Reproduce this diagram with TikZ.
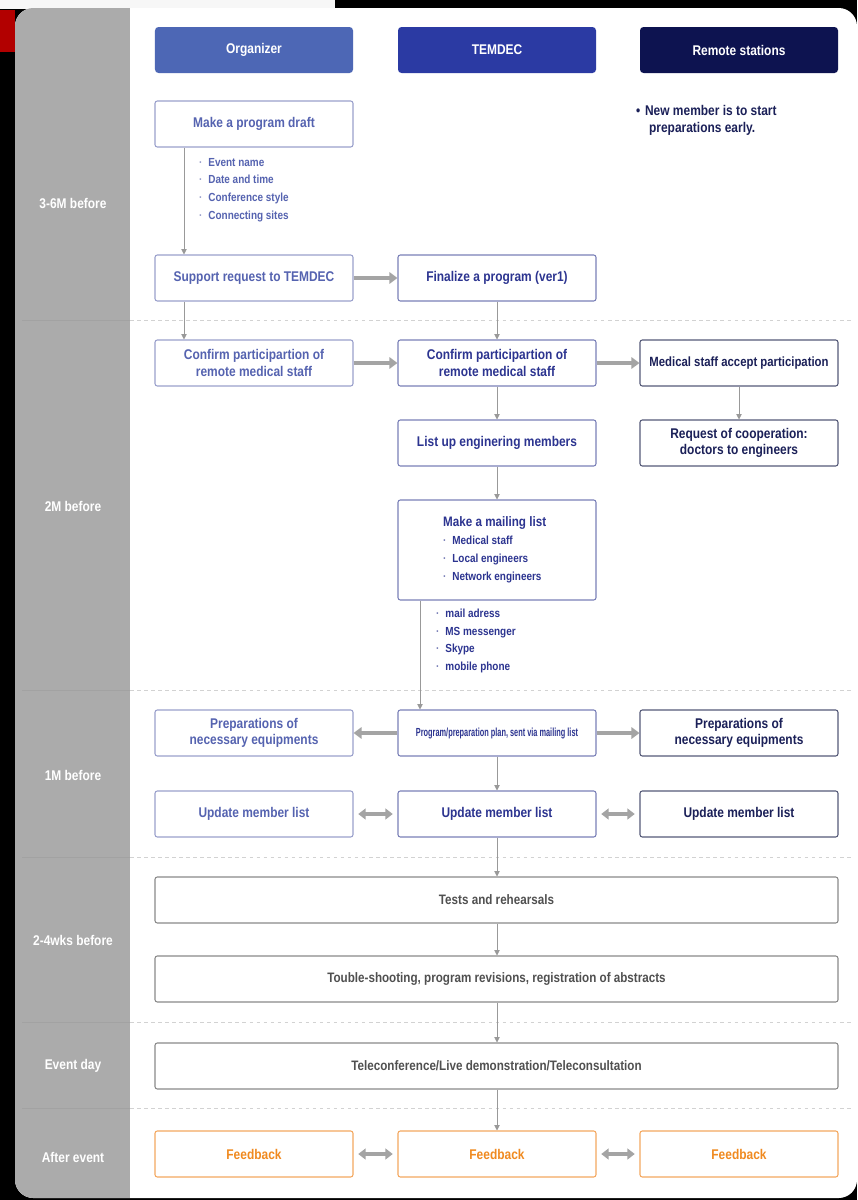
\documentclass[tikz,border=0pt]{standalone}
\usepackage{fontspec}
\setmainfont{Liberation Sans}[FakeStretch=0.85]
\usetikzlibrary{arrows.meta,positioning}
\definecolor{colgray}{HTML}{ABABAB}
\definecolor{orgfill}{HTML}{4D67B5}
\definecolor{temfill}{HTML}{2B3AA3}
\definecolor{remfill}{HTML}{0D1350}
\definecolor{orgline}{HTML}{9AA0CC}
\definecolor{orgtext}{HTML}{5563B0}
\definecolor{temline}{HTML}{7A80B8}
\definecolor{temtext}{HTML}{2C3490}
\definecolor{remline}{HTML}{555A78}
\definecolor{remtext}{HTML}{1B2058}
\definecolor{wideline}{HTML}{8A8A8A}
\definecolor{widetext}{HTML}{505050}
\definecolor{fbline}{HTML}{F4A860}
\definecolor{fbtext}{HTML}{F08A20}
\definecolor{linkgray}{HTML}{999999}
\definecolor{fatgray}{HTML}{A4A4A4}
\tikzset{hdr/.style={rounded corners=3pt,minimum width=5.94cm,minimum height=1.38cm,text=white,
    font=\bfseries\fontsize{12}{14}\selectfont},
  box/.style={draw,fill=white,rounded corners=2pt,minimum width=5.94cm,minimum height=1.38cm,
    align=center,line width=0.9pt,inner sep=2pt,font=\bfseries\fontsize{12}{14}\selectfont},
  lbox/.style={box,draw=orgline,text=orgtext},
  cbox/.style={box,draw=temline,text=temtext},
  rbox/.style={box,draw=remline,text=remtext},
  wbox/.style={box,draw=wideline,text=widetext,minimum width=20.49cm,font=\bfseries\fontsize{11.7}{14}\selectfont},
  fbbox/.style={box,draw=fbline,text=fbtext},
  phase/.style={text=white,font=\bfseries\fontsize{12}{14}\selectfont},
  items/.style={align=left,anchor=north west,inner sep=0pt,font=\bfseries\fontsize{10}{15}\selectfont},
  link/.style={-{Triangle[length=1.6mm,width=1.6mm]},draw=linkgray,line width=0.7pt},
  fat/.style={-{Triangle[length=2.4mm,width=3.4mm]},draw=fatgray,line width=3pt},
  fatboth/.style={{Triangle[length=2.2mm,width=3.2mm]}-{Triangle[length=2.2mm,width=3.2mm]},draw=fatgray,line width=3pt}}
\newcommand{\dotb}[1]{{\color{#1}·}\hspace{5pt}}
\begin{document}
\begin{tikzpicture}[x=0.03cm,y=-0.03cm]
\useasboundingbox (0,0) rectangle (857,1200);
% frame around the sheet
\fill[black] (0,0) rectangle (857,1200);
\fill[gray!6] (0,0) rectangle (335,9);
\fill[red!70!black] (0,10) rectangle (15,52);
\fill[white,rounded corners=0.55cm] (15,8) rectangle (857,1198);
\begin{scope}
  \clip[rounded corners=0.55cm] (15,8) rectangle (857,1198);
  \fill[colgray] (15,8) rectangle (130,1198);
\end{scope}
% phase separators
\foreach \y in {320,690,857,1022,1108}{
  \draw[gray!35,dashed,line width=0.5pt] (130,\y) -- (852,\y);
  \draw[gray!20!colgray,line width=0.6pt] (22,\y) -- (130,\y);}
% phase labels
\node[phase] (p1) at (73,203){3-6M before};
\node[phase] (p2) at (73,506){2M before};
\node[phase] (p3) at (73,775){1M before};
\node[phase] (p4) at (73,940){2-4wks before};
\node[phase] (p5) at (73,1066){Event day};
\node[phase] (p6) at (73,1157){After event};
% column headers
\node[hdr,fill=orgfill] (org) at (254,50){Organizer};
\node[hdr,fill=temfill] (tem) at (497,50){TEMDEC};
\node[hdr,fill=remfill] (rem) at (739,50){Remote stations};
% 3-6M before
\node[lbox] (draft) at (254,124){Make a program draft};
\node[items,text=orgtext] (draftlist) at (199,158){\dotb{orgline}Event name\\\dotb{orgline}Date and time\\\dotb{orgline}Conference style\\\dotb{orgline}Connecting sites};
\node[lbox] (support) at (254,278){Support request to TEMDEC};
\node[cbox] (final) at (497,278){Finalize a program (ver1)};
\node[items,text=remtext,font=\bfseries\fontsize{12}{14.5}\selectfont] (note) at (636,105){•\hspace{4pt}New member is to start\\\hspace{11pt}preparations early.};
% 2M before
\node[lbox] (confL) at (254,363){Confirm participartion of\\remote medical staff};
\node[cbox] (confC) at (497,363){Confirm participartion of\\remote medical staff};
\node[rbox,font=\bfseries\fontsize{11.4}{14}\selectfont] (medacc) at (739,363){Medical staff accept participation};
\node[cbox] (listeng) at (497,443){List up enginering members};
\node[rbox] (reqcoop) at (739,443){Request of cooperation:\\doctors to engineers};
\node[cbox,minimum height=3cm] (mail) at (497,550){};
\node[items,text=temtext,font=\bfseries\fontsize{10}{15}\selectfont] (maillist) at (443,516){{\fontsize{11.7}{15}\selectfont Make a mailing list}\\[1pt]\dotb{temline}Medical staff\\\dotb{temline}Local engineers\\\dotb{temline}Network engineers};
\node[items,text=temtext] (tools) at (436,609){\dotb{temline}mail adress\\\dotb{temline}MS messenger\\\dotb{temline}Skype\\\dotb{temline}mobile phone};
% 1M before
\node[cbox] (progC) at (497,733){\scalebox{0.74}[1]{\fontsize{10}{12}\selectfont Program/preparation plan, sent via mailing list}};
\node[lbox] (prepL) at (254,733){Preparations of\\necessary equipments};
\node[rbox] (prepR) at (739,733){Preparations of\\necessary equipments};
\node[lbox] (updL) at (254,814){Update member list};
\node[cbox] (updC) at (497,814){Update member list};
\node[rbox] (updR) at (739,814){Update member list};
% 2-4wks before, event day
\node[wbox] (tests) at (496.5,900){Tests and rehearsals};
\node[wbox] (trouble) at (496.5,979){Touble-shooting, program revisions, registration of abstracts};
\node[wbox] (tele) at (496.5,1066){Teleconference/Live demonstration/Teleconsultation};
% after event
\node[fbbox] (fbL) at (254,1154){Feedback};
\node[fbbox] (fbC) at (497,1154){Feedback};
\node[fbbox] (fbR) at (739,1154){Feedback};
% thin flow arrows
\draw[link] ([xshift=-2.1cm]draft.south) -- ([xshift=-2.1cm]support.north);
\draw[link] ([xshift=-2.1cm]support.south) -- ([xshift=-2.1cm]confL.north);
\draw[link] (final) -- (confC);
\draw[link] (confC) -- (listeng);
\draw[link] (listeng) -- (mail);
\draw[link] ([xshift=-2.31cm]mail.south) -- ([xshift=-2.31cm]progC.north);
\draw[link] (medacc) -- (reqcoop);
\draw[link] (progC) -- (updC);
\draw[link] (updC.south) -- (updC.south |- tests.north);
\draw[link] (updC.south |- tests.south) -- (updC.south |- trouble.north);
\draw[link] (updC.south |- trouble.south) -- (updC.south |- tele.north);
\draw[link] (updC.south |- tele.south) -- (fbC);
% thick hand-over arrows
\draw[fat] (support) -- (final);
\draw[fat] (confL) -- (confC);
\draw[fat] (confC) -- (medacc);
\draw[fat] (progC) -- (prepL);
\draw[fat] (progC) -- (prepR);
\draw[fatboth] ([xshift=4pt]updL.east) -- ([xshift=-4pt]updC.west);
\draw[fatboth] ([xshift=4pt]updC.east) -- ([xshift=-4pt]updR.west);
\draw[fatboth] ([xshift=4pt]fbL.east) -- ([xshift=-4pt]fbC.west);
\draw[fatboth] ([xshift=4pt]fbC.east) -- ([xshift=-4pt]fbR.west);
\end{tikzpicture}
\end{document}
